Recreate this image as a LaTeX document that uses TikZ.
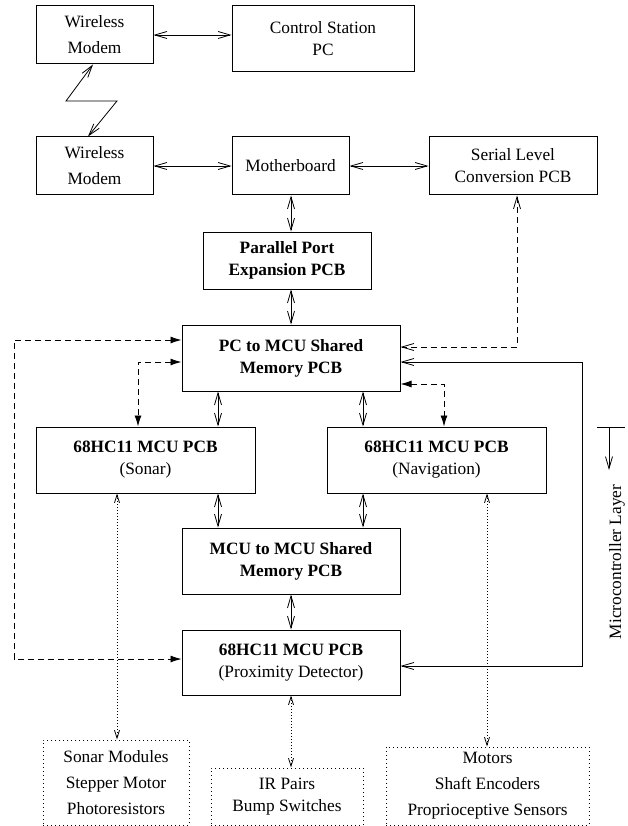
\documentclass[tikz,border=0pt]{standalone}
\usepackage{fontspec}
\setmainfont{Liberation Serif}
\usetikzlibrary{arrows.meta}
\newcommand\fsz{\fontsize{17.3}{22}\selectfont}
\newcommand\fszw{\fontsize{17.3}{26}\selectfont}
\begin{document}
\begin{tikzpicture}[x=1pt,y=-1pt,
  box/.style={draw, line width=1pt, align=center, inner sep=0pt, font=\fsz},
  wide/.style={font=\fszw},
  bold/.style={font=\fsz\bfseries},
  dbox/.style={box, dash pattern=on 1pt off 3pt},
  obarb/.tip={Straight Barb[length=12pt,width=7pt]},
  sbarb/.tip={Straight Barb[length=8pt,width=5pt]},
  fhead/.tip={Latex[length=11pt,width=7pt]},
  dbl/.style={line width=0.8pt, obarb-obarb},
  fdbl/.style={line width=0.8pt, dash pattern=on 6pt off 4pt, fhead-fhead},
  ddbl/.style={line width=0.8pt, dash pattern=on 6pt off 4pt, obarb-obarb},
  tdbl/.style={line width=0.8pt, dash pattern=on 1pt off 2pt, sbarb-sbarb},
]
\useasboundingbox (0,0) rectangle (628,826);

% boxes
\node[box, wide, minimum width=117pt, minimum height=58pt] (wm1) at (94.5,35) {Wireless\\Modem};
\node[box, minimum width=182pt, minimum height=66pt] (cs) at (323,39) {Control Station\\PC};
\node[box, wide, minimum width=117pt, minimum height=58pt] (wm2) at (94.5,166) {Wireless\\Modem};
\node[box, minimum width=117pt, minimum height=58pt] (mb) at (290.5,166) {Motherboard};
\node[box, minimum width=168pt, minimum height=58pt] (slc) at (513,166) {Serial Level\\Conversion PCB};
\node[box, bold, minimum width=168pt, minimum height=57pt] (pp) at (287,260.5) {Parallel Port\\Expansion PCB};
\node[box, bold, minimum width=218pt, minimum height=66pt] (pcm) at (291,358) {PC to MCU Shared\\Memory PCB};
\node[box, minimum width=219pt, minimum height=66pt] (son) at (145.5,460) {\textbf{68HC11 MCU PCB}\\(Sonar)};
\node[box, minimum width=219pt, minimum height=66pt] (nav) at (436.5,460) {\textbf{68HC11 MCU PCB}\\(Navigation)};
\node[box, bold, minimum width=218pt, minimum height=66pt] (mm) at (291,561) {MCU to MCU Shared\\Memory PCB};
\node[box, minimum width=218pt, minimum height=65pt] (prox) at (291,662.5) {\textbf{68HC11 MCU PCB}\\(Proximity Detector)};
\node[dbox, wide, minimum width=146pt, minimum height=85pt] (d1) at (116,782.5) {Sonar Modules\\Stepper Motor\\Photoresistors};
\node[dbox, minimum width=152pt, minimum height=57pt] (d2) at (287,796.5) {IR Pairs\\Bump Switches};
\node[dbox, wide, minimum width=203pt, minimum height=78pt] (d3) at (487.5,786) {Motors\\Shaft Encoders\\Proprioceptive Sensors};

% routing coordinates
\coordinate (cA) at (218,0);
\coordinate (cB) at (363,0);
\coordinate (cC) at (291,0);
\coordinate (cS) at (117,0);
\coordinate (cN) at (487,0);
\coordinate (cL) at (14,0);
\coordinate (cSd) at (138,0);
\coordinate (cNd) at (444,0);
\coordinate (cR) at (517,0);
\coordinate (cP) at (582,0);
\coordinate (r1) at (0,340);
\coordinate (r2) at (0,362);
\coordinate (r3) at (0,384);
\coordinate (r4) at (0,347);
\coordinate (r5) at (0,362);
\coordinate (r6) at (0,659);
\coordinate (r7) at (0,666);
\coordinate (z1) at (66,101);
\coordinate (z2) at (117,101);

% connectors
\draw[dbl] (wm1.east) -- (wm1.east -| cs.west);
\draw[dbl] ([xshift=-1.5pt]wm1.south) -- (z1) -- (z2) -- ([xshift=-6.5pt]wm2.north);
\draw[dbl] (wm2) -- (mb);
\draw[dbl] (mb) -- (slc);
\draw[dbl] (mb.south -| cC) -- (pp.north -| cC);
\draw[dbl] (pp.south -| cC) -- (pcm.north -| cC);
\draw[dbl] (pcm.south -| cA) -- (son.north -| cA);
\draw[dbl] (pcm.south -| cB) -- (nav.north -| cB);
\draw[dbl] (son.south -| cA) -- (mm.north -| cA);
\draw[dbl] (nav.south -| cB) -- (mm.north -| cB);
\draw[dbl] (mm.south -| cC) -- (prox.north -| cC);
\draw[tdbl] (son.south -| cS) -- (d1.north -| cS);
\draw[tdbl] (prox.south -| cC) -- (d2.north -| cC);
\draw[tdbl] (nav.south -| cN) -- (d3.north -| cN);
\draw[fdbl] (pcm.west |- r1) -- (cL |- r1) -- (cL |- r6) -- (prox.west |- r6);
\draw[fdbl] (pcm.west |- r2) -- (cSd |- r2) -- (son.north -| cSd);
\draw[fdbl] (pcm.east |- r3) -- (cNd |- r3) -- (nav.north -| cNd);
\draw[ddbl] (slc.south -| cR) -- (cR |- r4) -- (pcm.east |- r4);
\draw[dbl] (prox.east |- r7) -- (cP |- r7) -- (cP |- r5) -- (pcm.east |- r5);

% microcontroller layer marker
\coordinate (mlL) at (597,427);
\coordinate (mlR) at (625,427);
\coordinate (mlT) at (609,427);
\coordinate (mlB) at (609,470);
\draw[line width=0.8pt] (mlL) -- (mlR);
\draw[line width=0.8pt, -obarb] (mlT) -- (mlB);
\node[rotate=90, font=\fsz, inner sep=0pt] (mlabel) at (617,562) {Microcontroller Layer};
\end{tikzpicture}
\end{document}
